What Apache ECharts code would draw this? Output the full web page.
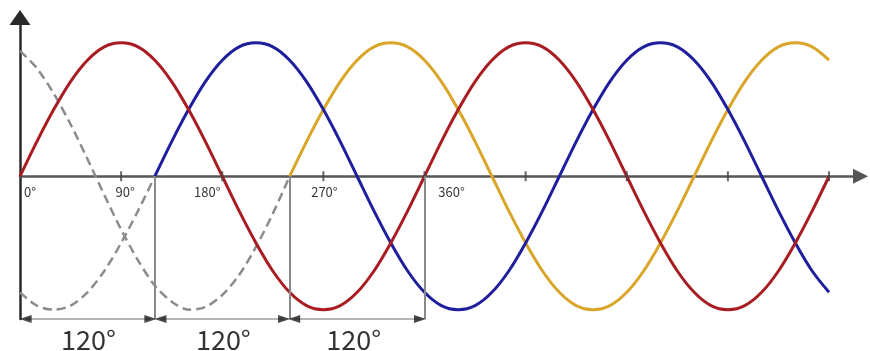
<!DOCTYPE html>
<html>
<head>
<meta charset="utf-8">
<script src="https://cdn.jsdelivr.net/npm/echarts@6/dist/echarts.min.js"></script>
<style>
	html, body { margin: 0; padding: 0; background: #fff; }
	#chart { width: 870px; height: 351px; }
</style>
</head>
<body>
<div id="chart"></div>
<script>
	// 角度 (每 15°)
	var angles = [0, 15, 30, 45, 60, 75, 90, 105, 120, 135, 150, 165, 180, 195, 210, 225, 240, 255, 270, 285, 300, 315, 330, 345, 360,
		375, 390, 405, 420, 435, 450, 465, 480, 495, 510, 525, 540, 555, 570, 585, 600, 615, 630, 645, 660, 675, 690, 705, 720]

	var redValues = [0, .26, .5, .71, .87, .97, 1, .97, .87, .71, .5, .26, 0, -.26, -.5, -.71, -.87, -.97, -1, -.97, -.87, -.71, -.5, -.26, 0,
		.26, .5, .71, .87, .97, 1, .97, .87, .71, .5, .26, 0, -.26, -.5, -.71, -.87, -.97, -1, -.97, -.87, -.71, -.5, -.26, 0]

	var blueValues = [null, null, null, null, null, null, null, null, 0, .26, .5, .71, .87, .97, 1, .97, .87, .71, .5, .26, 0, -.26, -.5, -.71, -.87,
		-.97, -1, -.97, -.87, -.71, -.5, -.26, 0, .26, .5, .71, .87, .97, 1, .97, .87, .71, .5, .26, 0, -.26, -.5, -.71, -.87]

	var yellowValues = [null, null, null, null, null, null, null, null, null, null, null, null, null, null, null, null, 0, .26, .5, .71, .87, .97, 1, .97, .87,
		.71, .5, .26, 0, -.26, -.5, -.71, -.87, -.97, -1, -.97, -.87, -.71, -.5, -.26, 0, .26, .5, .71, .87, .97, 1, .97, .87]

	// 虚线部分
	var blueDashValues = [-.87, -.97, -1, -.97, -.87, -.71, -.5, -.26, 0]
	var yellowDashValues = [.94, .81, .62, .39, .13, -.14, -.4, -.63, -.82, -.94, -1, -.98, -.89, -.74, -.53, -.28, 0]

	var ticks = [90, 180, 270, 360, 450, 540, 630, 720]
	var tickLabels = ['0°', '90°', '180°', '270°', '360°']
	var tickLabelAngles = [0, 90, 180, 270, 360]
	var tickLabelShift = [10, 4, -15, 1, 27]

	var phaseLines = [120, 240, 360]
	var spanStarts = [5, 125, 244]
	var spanEnds = [116, 235, 356]
	var spanLabels = ['120°', '120°', '120°']
	var spanLabelAngles = [61, 181, 297]

	var yBottom = -1.07

	function pairs(values) {
		var out = []
		values.forEach(function (v, i) {
			out.push([angles[i], v])
		})
		return out
	}

	var wave = function (name, values, color) {
		return {
			name: name,
			type: 'line',
			data: pairs(values),
			smooth: 0.3,
			showSymbol: false,
			lineStyle: { color: color, width: 3 },
			z: 3
		}
	}

	var dash = function (name, values) {
		return {
			name: name,
			type: 'line',
			data: pairs(values),
			smooth: 0.3,
			showSymbol: false,
			lineStyle: { color: '#8c8c8c', width: 2.5, type: [9, 5] },
			z: 2
		}
	}

	var arrowHeads = []
	spanStarts.forEach(function (s, i) {
		arrowHeads.push({ value: [s, yBottom], symbolRotate: 90 })
		arrowHeads.push({ value: [spanEnds[i], yBottom], symbolRotate: -90 })
	})

	var textFont = 'Noto Sans CJK SC, Noto Sans, sans-serif'

	var option = {
		animation: false,
		grid: { left: 20, right: 9.5, top: 17.5, bottom: 32 },
		xAxis: {
			type: 'value',
			min: 0,
			max: 748,
			axisLine: {
				onZero: true,
				symbol: ['none', 'triangle'],
				symbolSize: [15, 15],
				lineStyle: { color: '#555', width: 2.5 }
			},
			axisTick: { show: false },
			axisLabel: { show: false },
			splitLine: { show: false }
		},
		yAxis: {
			type: 'value',
			min: yBottom,
			max: 1.19,
			axisLine: {
				show: true,
				symbol: ['none', 'triangle'],
				symbolSize: [21, 15],
				lineStyle: { color: '#2a2a2a', width: 2.5 }
			},
			axisTick: { show: false },
			axisLabel: { show: false },
			splitLine: { show: false }
		},
		series: [
			dash('blueDash', blueDashValues),
			dash('yellowDash', yellowDashValues),
			wave('yellow', yellowValues, '#d9a62a'),
			wave('blue', blueValues, '#1f1f9e'),
			wave('red', redValues, '#a81c22'),
			{
				// 刻度
				type: 'scatter',
				symbol: 'rect',
				symbolSize: [2, 10],
				itemStyle: { color: '#444' },
				data: ticks.map(function (t) { return [t, 0] }),
				silent: true,
				z: 4,
				markLine: {
					silent: true,
					symbol: ['none', 'none'],
					label: { show: false },
					lineStyle: { color: '#8a8a8a', width: 2, type: 'solid' },
					data: phaseLines.map(function (p) {
						return [{ coord: [p, 0] }, { coord: [p, yBottom] }]
					})
				}
			},
			{
				// 刻度标签
				type: 'scatter',
				symbolSize: 0,
				silent: true,
				data: tickLabelAngles.map(function (a, i) {
					return {
						value: [a, 0],
						label: {
							show: true,
							position: 'inside',
							offset: [tickLabelShift[i], 16],
							formatter: tickLabels[i],
							color: '#000',
							textBorderWidth: 0,
							fontSize: 13,
							fontFamily: textFont
						}
					}
				})
			},
			{
				// 120° 区间
				type: 'line',
				clip: false,
				silent: true,
				data: [],
				markLine: {
					silent: true,
					symbol: ['none', 'none'],
					label: { show: false },
					lineStyle: { color: '#b5b5b5', width: 2, type: 'solid' },
					data: spanStarts.map(function (s, i) {
						return [{ coord: [s, yBottom] }, { coord: [spanEnds[i], yBottom] }]
					})
				}
			},
			{
				type: 'scatter',
				clip: false,
				silent: true,
				symbol: 'triangle',
				symbolSize: [8, 12],
				itemStyle: { color: '#1a1a1a' },
				data: arrowHeads,
				z: 5
			},
			{
				type: 'scatter',
				clip: false,
				silent: true,
				symbolSize: 0,
				data: spanLabelAngles.map(function (a, i) {
					return {
						value: [a, yBottom],
						label: {
							show: true,
							position: 'inside',
							offset: [0, 21],
							formatter: spanLabels[i],
							color: '#000',
							textBorderWidth: 0,
							fontSize: 27,
							fontFamily: textFont
						}
					}
				})
			}
		]
	}

	var chart = echarts.init(document.getElementById('chart'))
	chart.setOption(option)
</script>
</body>
</html>
